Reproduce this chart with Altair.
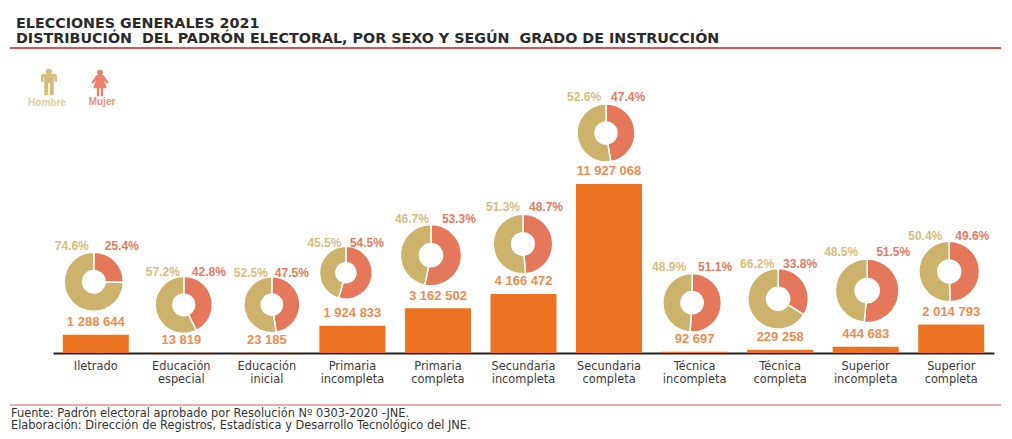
import altair as alt
import pandas as pd

categories = ["Iletrado", "Educación\nespecial", "Educación\ninicial", "Primaria\nincompleta",
              "Primaria\ncompleta", "Secundaria\nincompleta", "Secundaria\ncompleta",
              "Técnica\nincompleta", "Técnica\ncompleta", "Superior\nincompleta", "Superior\ncompleta"]
electores = [1288644, 13819, 23185, 1924833, 3162502, 4166472, 11927068, 92697, 229258, 444683, 2014793]
electores_txt = ["1 288 644", "13 819", "23 185", "1 924 833", "3 162 502", "4 166 472",
                 "11 927 068", "92 697", "229 258", "444 683", "2 014 793"]
hombre = [74.6, 57.2, 52.5, 45.5, 46.7, 51.3, 52.6, 48.9, 66.2, 48.5, 50.4]
mujer = [25.4, 42.8, 47.5, 54.5, 53.3, 48.7, 47.4, 51.1, 33.8, 51.5, 49.6]

title_lines = ["ELECCIONES GENERALES 2021",
               "DISTRIBUCIÓN\u00a0 DEL PADRÓN ELECTORAL, POR SEXO Y SEGÚN\u00a0 GRADO DE INSTRUCCIÓN"]
foot_lines = ["Fuente: Padrón electoral aprobado por Resolución Nº 0303-2020 -JNE.",
              "Elaboración: Dirección de Registros, Estadística y Desarrollo Tecnológico del JNE."]

C_BAR, C_H, C_M = "#EC7322", "#CDB26B", "#E5785A"
C_HT, C_MT, C_VT = "#D6BE7E", "#E57B5E", "#EE8C50"
SANS = "Liberation Sans"
WIDE = "DejaVu Sans"

# Hand placement of each donut and its labels, as mark offsets from the bar top (not data).
DONUT_DX = [-2, 2.5, 5, -6.5, -7, -0.5, -3, -2.5, -2, 1.5, -2]
DONUT_LIFT = [53, 48, 48, 53, 53, 50, 51, 49, 51, 56, 53]
DONUT_R = [29.6, 28.6, 28, 26.4, 30.6, 29.8, 29, 29.3, 30.3, 31.8, 30.3]
H_DX = [-24, -18.5, -16, -28, -26, -20.5, -25, -25.5, -23, -24.5, -26]
M_DX = [26, 27.5, 25, 14.5, 21, 22.5, 19, 20.5, 20, 27.5, 21]
PCT_LIFT = [89, 81, 80, 83, 89, 87, 87, 85, 86, 95, 88]

bars = pd.DataFrame({"cat": categories, "v": electores, "txt": electores_txt})
rows = []
for c, v, h, m in zip(categories, electores, hombre, mujer):
    rows.append({"cat": c, "v": v, "sexo": "Mujer", "a": 0, "b": m, "pct": f"{m}%"})
    rows.append({"cat": c, "v": v, "sexo": "Hombre", "a": m, "b": 100, "pct": f"{h}%"})
slices = pd.DataFrame(rows)

x = alt.X("cat:N", sort=categories, title=None,
          scale=alt.Scale(paddingInner=0.228, paddingOuter=0.114),
          axis=alt.Axis(labelAngle=0, ticks=False, domainColor="#222", domainWidth=2,
                        labelExpr="split(datum.label, '\\n')", labelFont=WIDE, labelFontSize=11.4,
                        labelColor="#3a3a3a", labelPadding=7, labelLimit=0, labelLineHeight=13, grid=False))
y = alt.Y("v:Q", title=None, axis=None, stack=None, scale=alt.Scale(domain=[0, 21384000], nice=False))

bar = alt.Chart(bars).mark_bar(color=C_BAR).encode(x=x, y=y)
val = alt.Chart(bars).mark_text(font=SANS, fontSize=13, fontWeight="bold", color=C_VT, baseline="middle",
                                yOffset=-12.5).encode(x=x, y=y, text="txt:N")
sex_col = alt.Color("sexo:N", legend=None, scale=alt.Scale(domain=["Hombre", "Mujer"], range=[C_H, C_M]))
theta = alt.Theta("a:Q", stack=None, scale=alt.Scale(domain=[0, 100], range=[0, 6.2832]))

per_cat = []
for i, c in enumerate(categories):
    sub = slices[slices.cat == c]
    r = DONUT_R[i]
    per_cat.append(alt.Chart(sub).mark_arc(radius=r, radius2=r * 0.38, stroke="#FFFFFF", strokeWidth=1.5,
                                           xOffset=DONUT_DX[i], yOffset=-DONUT_LIFT[i]).encode(
        x=x, y=y, theta=theta, theta2="b:Q", color=sex_col))
    for sexo, col, dx in (("Hombre", C_HT, H_DX[i]), ("Mujer", C_MT, M_DX[i])):
        per_cat.append(alt.Chart(sub[sub.sexo == sexo]).mark_text(
            font=SANS, fontSize=12, fontWeight="bold", color=col, baseline="middle",
            xOffset=dx, yOffset=-PCT_LIFT[i]).encode(x=x, y=y, text="pct:N"))


def label(text, px, py, size, color, bold=True, align="left", font=SANS):
    return alt.Chart(alt.Data(values=[{"t": text}])).mark_text(
        font=font, fontSize=size, fontWeight="bold" if bold else "normal", color=color, align=align,
        baseline="middle").encode(x=alt.value(px - 53), y=alt.value(py - 50), text="t:N")


def rule(py, color, w):
    return alt.Chart(alt.Data(values=[{"k": 1}])).mark_rule(color=color, strokeWidth=w).encode(
        x=alt.value(10 - 53), x2=alt.value(1001 - 53), y=alt.value(py - 50))


MAN = ("M0,-1 C.14,-1 .24,-.92 .24,-.8 C.24,-.7 .16,-.64 .1,-.62 L.38,-.62 C.52,-.62 .6,-.54 .6,-.42 "
       "L.6,-.02 L.42,-.02 L.42,-.34 L.36,-.34 L.36,1 L.06,1 L.06,.1 L-.06,.1 L-.06,1 L-.36,1 L-.36,-.34 "
       "L-.42,-.34 L-.42,-.02 L-.6,-.02 L-.6,-.42 C-.6,-.54 -.52,-.62 -.38,-.62 L-.1,-.62 "
       "C-.16,-.64 -.24,-.7 -.24,-.8 C-.24,-.92 -.14,-1 0,-1 Z")
WOMAN = ("M0,-1 C.14,-1 .22,-.9 .22,-.8 C.22,-.7 .16,-.64 .1,-.62 C.3,-.6 .36,-.5 .4,-.4 L.66,-.02 L.52,.04 "
         "L.3,-.2 L.52,.4 L.24,.4 L.24,1 L.06,1 L.06,.4 L-.06,.4 L-.06,1 L-.24,1 L-.24,.4 L-.52,.4 "
         "L-.3,-.2 L-.52,.04 L-.66,-.02 L-.4,-.4 C-.36,-.5 -.3,-.6 -.1,-.62 C-.16,-.64 -.22,-.7 -.22,-.8 "
         "C-.22,-.9 -.14,-1 0,-1 Z")


def icon(shape, px, py, color):
    return alt.Chart(alt.Data(values=[{"k": 1}])).mark_point(shape=shape, filled=True, color=color, opacity=1,
        size=700, strokeWidth=0).encode(x=alt.value(px - 53), y=alt.value(py - 50))


chart = alt.layer(
    bar, val, *per_cat,
    rule(48, "#D9534F", 2), rule(405, "#E58F8F", 1.5),
    label(title_lines[0], 16, 24, 14.3, "#2b2b2b", font=WIDE),
    label(title_lines[1], 16, 38.5, 14.3, "#2b2b2b", font=WIDE),
    label(foot_lines[0], 11, 414, 11.4, "#333333", bold=False, font=WIDE),
    label(foot_lines[1], 11, 426, 11.4, "#333333", bold=False, font=WIDE),
    icon(MAN, 49, 82, "#D6BC78"), icon(WOMAN, 100, 83, "#EC7F68"),
    label("Hombre", 47, 103, 10, "#E0CFA0", align="center"),
    label("Mujer", 102, 102, 10, "#EE9076", align="center"),
).properties(
    width=941, height=303,
    autosize=alt.AutoSizeParams(type="none"),
    padding={"left": 45, "top": 42, "right": 10, "bottom": 86},
    background="#FFFFFF",
).configure_view(stroke=None)

chart.save("out.html", embed_options={"renderer": "svg", "actions": False})
